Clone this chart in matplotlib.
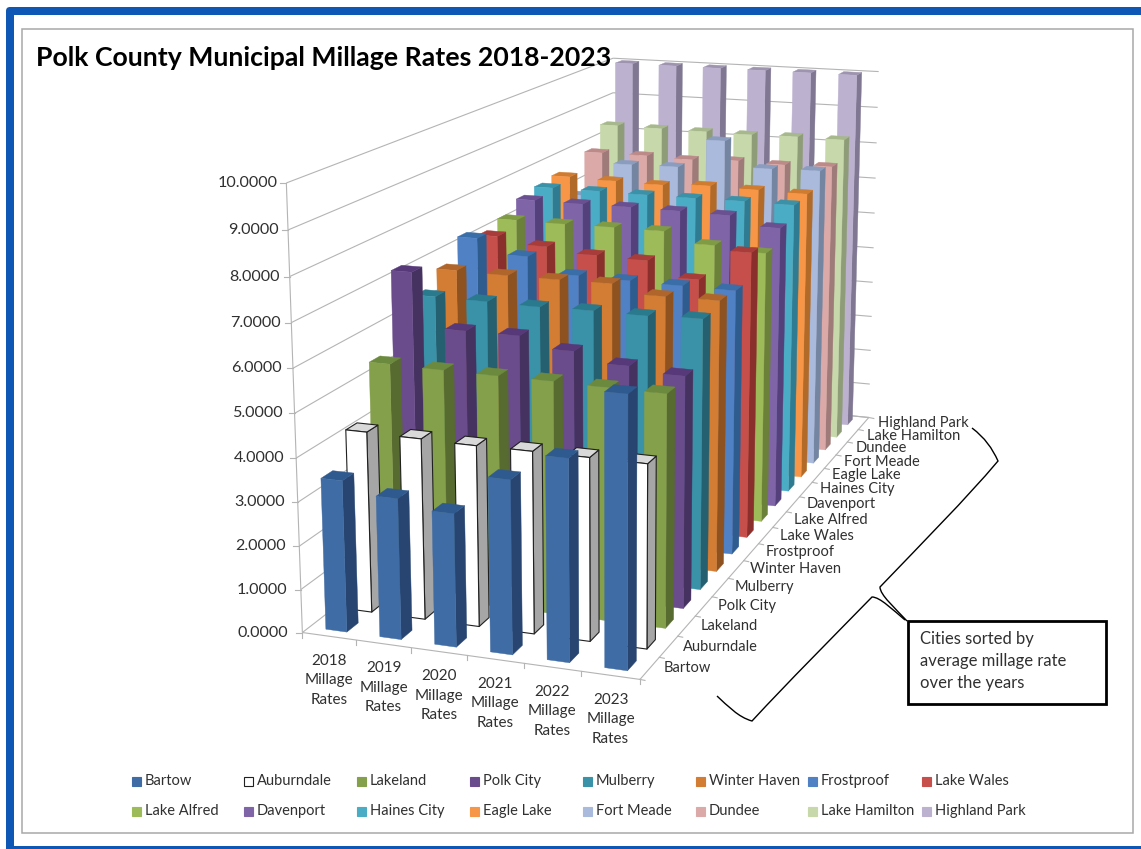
"""Polk County municipal millage rates, drawn as a 3D column chart on a flat axes."""

import numpy as np
import matplotlib
matplotlib.use("Agg")
import matplotlib.pyplot as plt
from matplotlib.patches import FancyBboxPatch, PathPatch, Rectangle
from matplotlib.path import Path

plt.rcParams["font.family"] = ["Lato", "DejaVu Sans"]

YEARS = ["2018", "2019", "2020", "2021", "2022", "2023"]
CITIES = ["Bartow", "Auburndale", "Lakeland", "Polk City", "Mulberry", "Winter Haven",
          "Frostproof", "Lake Wales", "Lake Alfred", "Davenport", "Haines City",
          "Eagle Lake", "Fort Meade", "Dundee", "Lake Hamilton", "Highland Park"]

bartow        = [3.48, 3.22, 3.03, 3.93, 4.54, 6.05]
auburndale    = [4.21, 4.19, 4.17, 4.18, 4.18, 4.18]
lakeland      = [5.43, 5.41, 5.40, 5.40, 5.38, 5.37]
polk_city     = [7.26, 6.00, 6.00, 5.76, 5.54, 5.43]
mulberry      = [6.40, 6.39, 6.37, 6.39, 6.38, 6.42]
winter_haven  = [6.75, 6.73, 6.73, 6.74, 6.54, 6.55]
frostproof    = [7.27, 6.92, 6.55, 6.53, 6.51, 6.50]
lake_wales    = [7.06, 6.90, 6.78, 6.75, 6.38, 7.14]
lake_alfred   = [7.22, 7.21, 7.22, 7.22, 6.96, 6.86]
davenport     = [7.49, 7.48, 7.49, 7.48, 7.46, 7.23]
haines_city   = [7.58, 7.58, 7.57, 7.57, 7.58, 7.57]
eagle_lake    = [7.65, 7.62, 7.60, 7.66, 7.64, 7.62]
fort_meade    = [6.90, 7.84, 7.86, 8.64, 7.97, 8.00]
dundee        = [7.87, 7.87, 7.84, 7.89, 7.86, 7.89]
lake_hamilton = [8.43, 8.42, 8.41, 8.40, 8.42, 8.41]
highland_park = [10.0, 10.0, 10.0, 10.0, 10.0, 10.0]

RATES = [bartow, auburndale, lakeland, polk_city, mulberry, winter_haven, frostproof,
         lake_wales, lake_alfred, davenport, haines_city, eagle_lake, fort_meade,
         dundee, lake_hamilton, highland_park]

# front, side and top face colours per city
FRONT = ["#3F6CA4", "#FFFFFF", "#84A04A", "#6A4C8C", "#3A92A8", "#D27C34", "#4F81C4", "#C64F4C",
         "#9DBB59", "#8064A8", "#4BACC6", "#F79646", "#A9BADC", "#DBA9A8", "#C7D8AB", "#BCB2D0"]
SIDE = ["#274570", "#A6A6A6", "#576A30", "#463260", "#256070", "#8D5220", "#2F5C8F", "#8B2F2C",
        "#6B8038", "#54407A", "#2F7C92", "#B26A28", "#7385A0", "#9E7A79", "#8E9C78", "#807893"]
TOP = ["#2F5A8F", "#D9D9D9", "#6C8A3E", "#57397A", "#2A7A8E", "#B0662A", "#3A6EA8", "#A83C3A",
       "#7F9C45", "#6A5090", "#3A92A8", "#D07C30", "#8A9DBE", "#BC8A89", "#A6B88C", "#9E94B0"]

BAR_W = 0.39     # share of a year slot
BAR_D = 0.45     # share of a city slot
GRID = "#B4B4B4"
TEXT = "#303030"

# camera calibration: (x, y, z) box corners -> figure pixels
CAM_BOX = [(0, 0, 0), (1, 0, 0), (0.5, 0, 0), (1, 1, 0), (1, 0.5, 0),
           (0, 0, 1), (1, 1, 1), (0, 1, 1)]
CAM_PX = [(302, 632), (641, 679), (466, 655), (868, 418), (774, 528),
          (286, 184), (878, 71), (614, 58)]


def solve_camera(box, px):
    rows = []
    for (x, y, z), (u, v) in zip(box, px):
        rows.append([x, y, z, 1, 0, 0, 0, 0, -u * x, -u * y, -u * z, -u])
        rows.append([0, 0, 0, 0, x, y, z, 1, -v * x, -v * y, -v * z, -v])
    return np.linalg.svd(np.array(rows, dtype=float))[2][-1].reshape(3, 4)


CAM = solve_camera(CAM_BOX, CAM_PX)


def proj(x, y, z):
    u, v, w = CAM @ np.array([x, y, z, 1.0])
    return u / w, v / w


def face(ax, pts, color, edge, lw, order):
    ax.fill(*zip(*[proj(*p) for p in pts]), facecolor=color, edgecolor=edge,
            linewidth=lw, zorder=order, joinstyle="round")


def draw_bar(ax, i, j, val, order):
    x0 = (i + 0.5 - BAR_W / 2) / len(YEARS)
    x1 = (i + 0.5 + BAR_W / 2) / len(YEARS)
    y0 = (j + 0.5 - BAR_D / 2) / len(CITIES)
    y1 = (j + 0.5 + BAR_D / 2) / len(CITIES)
    z = val / 10.0
    outlined = FRONT[j] == "#FFFFFF"
    lw = 0.8 if outlined else 0.3
    face(ax, [(x1, y0, 0), (x1, y1, 0), (x1, y1, z), (x1, y0, z)], SIDE[j],
         "#202020" if outlined else SIDE[j], lw, order)
    face(ax, [(x0, y0, z), (x1, y0, z), (x1, y1, z), (x0, y1, z)], TOP[j],
         "#202020" if outlined else TOP[j], lw, order)
    face(ax, [(x0, y0, 0), (x1, y0, 0), (x1, y0, z), (x0, y0, z)], FRONT[j],
         "#202020" if outlined else FRONT[j], lw, order)


def line3(ax, a, b, lw=0.8):
    pa, pb = proj(*a), proj(*b)
    ax.plot([pa[0], pb[0]], [pa[1], pb[1]], color=GRID, lw=lw, zorder=1,
            solid_capstyle="butt")


def draw_walls(ax):
    for k in range(11):
        z = k / 10.0
        line3(ax, (0, 0, z), (0, 1, z))
        line3(ax, (0, 1, z), (1, 1, z))
        u, v = proj(0, 0, z)
        ax.plot([u - 6, u], [v, v], color=GRID, lw=0.8, zorder=1)
        ax.text(u - 14 + 5 * z, v, f"{k:.4f}", ha="right", va="center", fontsize=11.6, color=TEXT)
    line3(ax, (0, 0, 0), (0, 0, 1))
    line3(ax, (0, 0, 0), (1, 0, 0))
    line3(ax, (1, 0, 0), (1, 1, 0))
    line3(ax, (0, 1, 0), (1, 1, 0))

    for i in range(len(YEARS) + 1):
        u, v = proj(i / len(YEARS), 0, 0)
        ax.plot([u, u], [v, v + 5], color=GRID, lw=0.8, zorder=1)
    for i, year in enumerate(YEARS):
        u, v = proj((i + 0.5) / len(YEARS), 0, 0)
        ax.text(u, v + 44, f"{year}\nMillage\nRates", ha="center", va="center",
                fontsize=11, color=TEXT, linespacing=1.5)

    for j in range(len(CITIES) + 1):
        u, v = proj(1, j / len(CITIES), 0)
        ax.plot([u, u + 5], [v, v + 1], color=GRID, lw=0.8, zorder=1)
    for j, city in enumerate(CITIES):
        u, v = proj(1, (j + 0.5) / len(CITIES), 0)
        ax.text(u + 14, v, city, ha="left", va="center", fontsize=10.5, color=TEXT)


def draw_legend(ax):
    col_x = [132, 244, 357, 470, 583, 696, 808, 922]
    for n, city in enumerate(CITIES):
        x = col_x[n % 8]
        y = 781 if n < 8 else 811
        ax.add_patch(Rectangle((x, y - 4.5), 9, 9, facecolor=FRONT[n],
                               edgecolor="#202020" if FRONT[n] == "#FFFFFF" else FRONT[n],
                               linewidth=0.8))
        ax.text(x + 13, y, city, ha="left", va="center", fontsize=10.5, color=TEXT)


def draw_callout(ax):
    # brace running down the city axis, joined to the note box
    verts = [(972, 428), (985, 438), (992, 448), (998, 461),
             (965, 500), (925, 540), (880, 587),
             (880, 595), (895, 608), (907, 621)]
    codes = [Path.MOVETO, Path.CURVE4, Path.CURVE4, Path.CURVE4,
             Path.CURVE4, Path.CURVE4, Path.CURVE4,
             Path.CURVE4, Path.CURVE4, Path.CURVE4]
    ax.add_patch(PathPatch(Path(verts, codes), fill=False, edgecolor="black", lw=1.0, zorder=5))
    verts = [(905, 620), (893, 610), (880, 597), (872, 597),
             (830, 640), (790, 680), (752, 721),
             (738, 717), (728, 706), (717, 696)]
    ax.add_patch(PathPatch(Path(verts, codes), fill=False, edgecolor="black", lw=1.0, zorder=5))
    ax.add_patch(Rectangle((908, 621), 198, 83, facecolor="white", edgecolor="black",
                           linewidth=2.0, zorder=6))
    ax.text(920, 661, "Cities sorted by\naverage millage rate\nover the years", ha="left",
            va="center", fontsize=12, color=TEXT, linespacing=1.47, zorder=7)


def main():
    fig = plt.figure(figsize=(11.41, 8.49), dpi=100)
    ax = fig.add_axes([0, 0, 1, 1])
    ax.set_xlim(0, 1141)
    ax.set_ylim(849, 0)
    ax.axis("off")

    # page frame, open on the right
    ax.add_patch(FancyBboxPatch((6, 7), 1200, 900, boxstyle="round,pad=0,rounding_size=4",
                                facecolor="#0F57B5", edgecolor="none", zorder=0))
    ax.add_patch(Rectangle((14, 15), 1200, 831, facecolor="white", edgecolor="none", zorder=0))
    ax.add_patch(Rectangle((21.5, 28.5), 1111.5, 804, facecolor="white", edgecolor="#A8A8A8",
                           linewidth=1.1, zorder=0.5))

    draw_walls(ax)

    order = 2
    for j in reversed(range(len(CITIES))):
        for i in range(len(YEARS)):
            draw_bar(ax, i, j, RATES[j][i], order)
            order += 1

    ax.text(36, 58, "Polk County Municipal Millage Rates 2018-2023", ha="left", va="center",
            fontsize=19.2, fontweight="bold", color="black", zorder=order + 1)
    draw_legend(ax)
    draw_callout(ax)

    fig.savefig("out.png", dpi=100)
    plt.close(fig)


if __name__ == "__main__":
    main()
